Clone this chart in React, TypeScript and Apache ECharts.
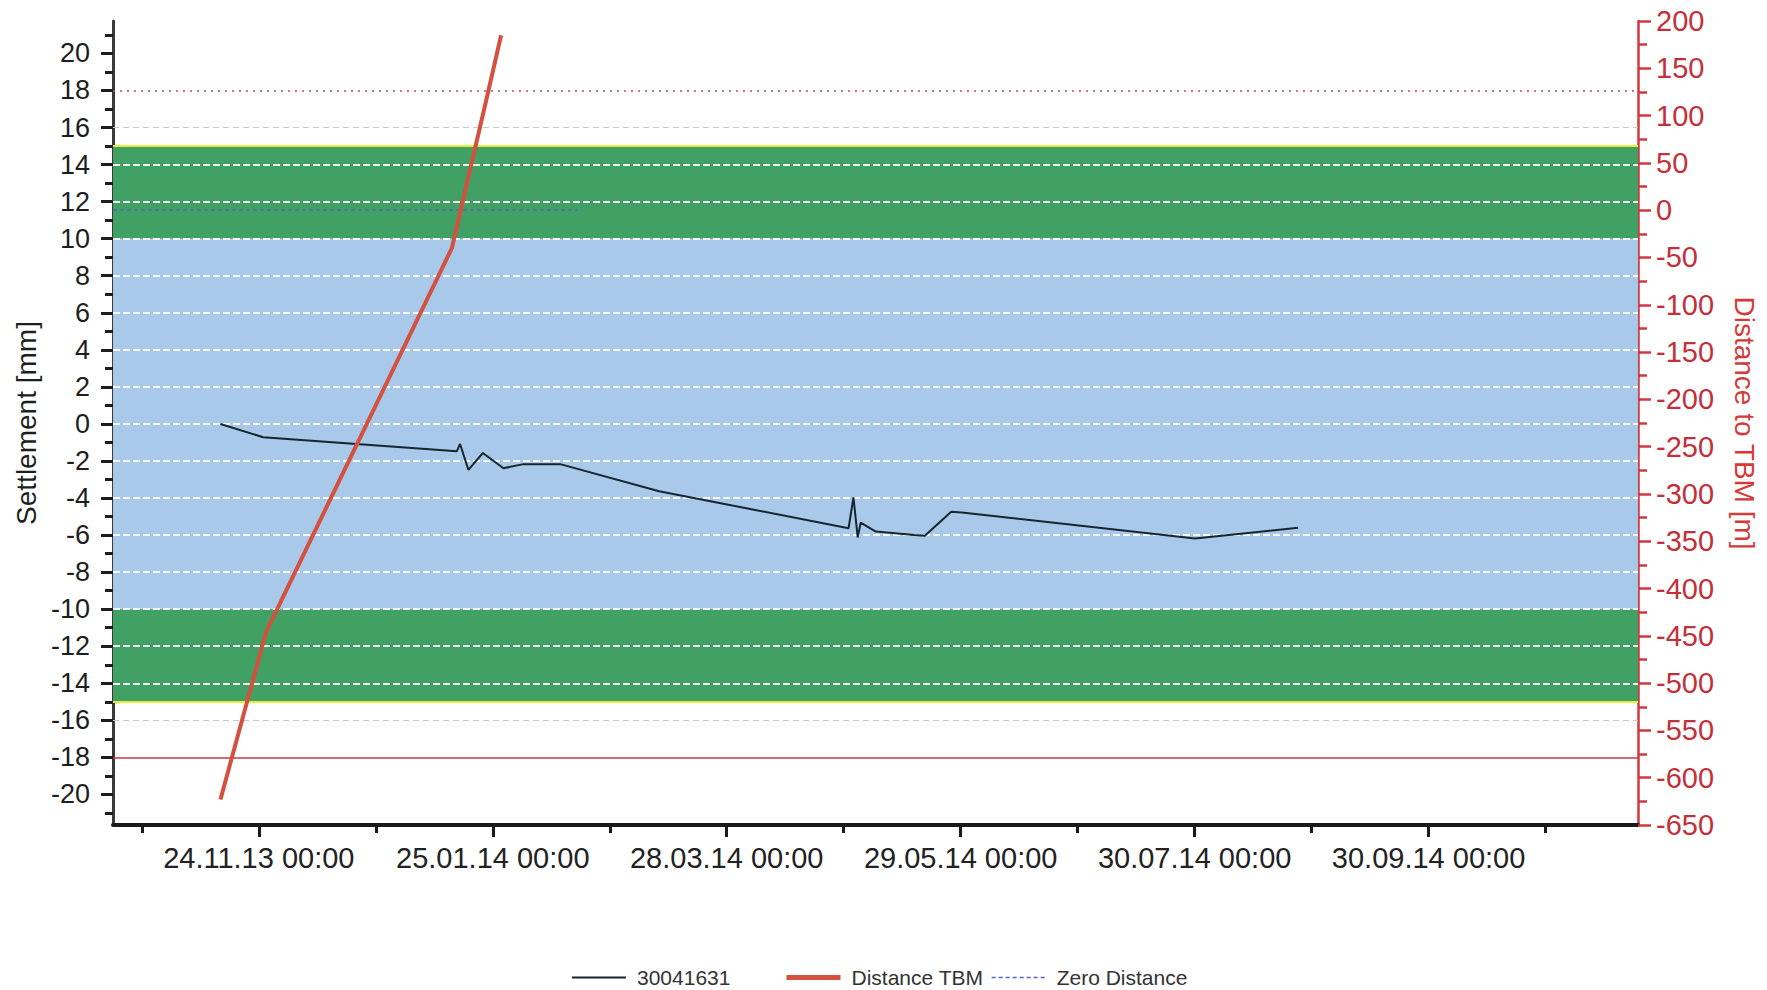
import React, { useEffect, useRef } from 'react';
import * as echarts from 'echarts';

// ---- data ----
const settlementDates = [
  '2013-11-13T20:00', '2013-11-25T04:00', '2014-01-15T11:00', '2014-01-16T08:00',
  '2014-01-18T13:00', '2014-01-22T09:00', '2014-01-27T20:00', '2014-02-02T03:00',
  '2014-02-11T21:00', '2014-03-10T02:00', '2014-04-29T07:00', '2014-04-30T14:00',
  '2014-05-01T17:00', '2014-05-02T12:00', '2014-05-06T12:00', '2014-05-16T17:00',
  '2014-05-19T12:00', '2014-05-26T12:00', '2014-05-29T07:00', '2014-07-30T03:00',
  '2014-08-26T10:00',
];
const settlementValues = [
  0.0, -0.72, -1.48, -1.08, -2.48, -1.57, -2.39, -2.17, -2.17, -3.63, -5.63, -3.96,
  -6.13, -5.33, -5.81, -6.0, -6.04, -4.74, -4.78, -6.18, -5.61,
];

const distanceDates = ['2013-11-13T20:00', '2013-11-25T22:00', '2014-01-14T04:00', '2014-01-23T06:00', '2014-01-27T05:00'];
const distanceValues = [-623, -446, -40, 116, 185];

const zeroDates = ['2013-10-16T08:30', '2014-02-16T10:00'];
const zeroValues = [0, 0];

const xAxisStart = '2013-10-16T08:30';
const xAxisEnd = '2014-11-24T12:00';
const xLabelDates = ['2013-11-24T00:00', '2014-01-25T00:00', '2014-03-28T00:00', '2014-05-29T00:00', '2014-07-30T00:00', '2014-09-30T00:00'];
const xMinorTickDates = ['2013-10-24T00:00', '2013-12-25T00:00', '2014-02-25T00:00', '2014-04-28T00:00', '2014-06-29T00:00', '2014-08-30T00:00', '2014-10-31T00:00'];

const leftMin = -21.65;
const leftMax = 21.75;
const leftLabelValues = [-20, -18, -16, -14, -12, -10, -8, -6, -4, -2, 0, 2, 4, 6, 8, 10, 12, 14, 16, 18, 20];
const leftMinorTickValues = [-21, -19, -17, -15, -13, -11, -9, -7, -5, -3, -1, 1, 3, 5, 7, 9, 11, 13, 15, 17, 19, 21];

const rightMin = -650;
const rightMax = 200;
const rightInterval = 50;

const gridLineValues = [-14, -12, -10, -8, -6, -4, -2, 0, 2, 4, 6, 8, 10, 12, 14];
const upperGreenBand = [10, 15];
const blueBand = [-10, 10];
const lowerGreenBand = [-15, -10];
const bandEdgeValues = [15, -15];
const warningValues = [16, -16];
const alarmUpper = 18;
const alarmLower = -18;

const seriesNames = ['30041631', 'Distance TBM', 'Zero Distance'];

// ---- helpers ----
const ts = (s: string) => Date.parse(s + ':00Z');
const pad = (n: number) => (n < 10 ? '0' + n : '' + n);
const fmtDate = (v: number) => {
  const d = new Date(v);
  return `${pad(d.getUTCDate())}.${pad(d.getUTCMonth() + 1)}.${pad(d.getUTCFullYear() % 100)} 00:00`;
};

const FONT = '"Liberation Sans", Arial, Helvetica, sans-serif';
const GREEN = '#41a064';
const BLUE = '#a8c9ea';
const RED_AXIS = '#cf3a40';

const legendBase = (name: string, left: number, lineWidth: number) => ({
  data: [name],
  left,
  top: 967,
  padding: 0,
  itemWidth: 54,
  itemHeight: 2,
  itemStyle: { opacity: 0 },
  lineStyle: { width: lineWidth },
  textStyle: { fontSize: 21, color: '#333', fontFamily: FONT, padding: [0, 0, 0, 6] },
});

export default function App() {
  const ref = useRef<HTMLDivElement>(null);

  useEffect(() => {
    if (!ref.current) return;
    const chart = echarts.init(ref.current, undefined, { renderer: 'svg' });
    const xMin = ts(xAxisStart);
    const xMax = ts(xAxisEnd);
    const xLabelTs = xLabelDates.map(ts);
    const xMinorTs = xMinorTickDates.map(ts);

    const option: any = {
      animation: false,
      backgroundColor: '#ffffff',
      textStyle: { fontFamily: FONT },
      grid: { left: 113, right: 129, top: 21, bottom: 165, containLabel: false },
      legend: [
        legendBase(seriesNames[0], 571, 2),
        legendBase(seriesNames[1], 784, 5),
        legendBase(seriesNames[2], 991, 1.3),
      ],
      xAxis: [
        {
          type: 'value',
          min: xMin,
          max: xMax,
          position: 'bottom',
          axisLine: { show: true, onZero: false, lineStyle: { color: '#1a1a1a', width: 4 } },
          axisTick: { show: true, customValues: xLabelTs, length: 12, lineStyle: { color: '#1a1a1a', width: 3 } },
          axisLabel: {
            show: true,
            customValues: xLabelTs,
            formatter: (v: number) => fmtDate(v),
            fontSize: 29,
            color: '#222',
            margin: 18,
            fontFamily: FONT,
          },
          splitLine: { show: false },
        },
        {
          type: 'value',
          min: xMin,
          max: xMax,
          position: 'bottom',
          axisLine: { show: false, onZero: false },
          axisTick: { show: true, customValues: xMinorTs, length: 8, lineStyle: { color: '#1a1a1a', width: 3 } },
          axisLabel: { show: false },
          splitLine: { show: false },
        },
      ],
      yAxis: [
        {
          type: 'value',
          min: leftMin,
          max: leftMax,
          position: 'left',
          name: 'Settlement [mm]',
          nameLocation: 'middle',
          nameGap: 70,
          nameTextStyle: { fontSize: 28, color: '#1e1e1e', fontFamily: FONT },
          axisLine: { show: true, onZero: false, lineStyle: { color: '#3a3a3a', width: 3 } },
          axisTick: { show: true, customValues: leftLabelValues, length: 12, lineStyle: { color: '#1e1e1e', width: 3 } },
          axisLabel: { show: true, customValues: leftLabelValues, fontSize: 27, color: '#1e1e1e', margin: 23, fontFamily: FONT },
          splitLine: { show: false },
        },
        {
          type: 'value',
          min: rightMin,
          max: rightMax,
          interval: rightInterval,
          position: 'right',
          name: 'Distance to TBM [m]',
          nameLocation: 'middle',
          nameRotate: -90,
          nameGap: 92,
          nameTextStyle: { fontSize: 28, color: '#d43a3a', fontFamily: FONT },
          axisLine: { show: true, onZero: false, lineStyle: { color: RED_AXIS, width: 2.5 } },
          axisTick: { show: true, length: 13, lineStyle: { color: RED_AXIS, width: 2.5 } },
          minorTick: { show: true, splitNumber: 2, length: 9, lineStyle: { color: RED_AXIS, width: 2.5 } },
          axisLabel: { show: true, fontSize: 29, color: '#c4303a', margin: 18, fontFamily: FONT },
          splitLine: { show: false },
          minorSplitLine: { show: false },
        },
        {
          type: 'value',
          min: leftMin,
          max: leftMax,
          position: 'left',
          axisLine: { show: false, onZero: false },
          axisTick: { show: true, customValues: leftMinorTickValues, length: 8, lineStyle: { color: '#1e1e1e', width: 3 } },
          axisLabel: { show: false },
          splitLine: { show: false },
        },
      ],
      series: [
        {
          name: 'bands',
          type: 'line',
          data: [],
          xAxisIndex: 0,
          yAxisIndex: 0,
          z: 1,
          silent: true,
          markArea: {
            silent: true,
            data: [
              [{ yAxis: upperGreenBand[0], itemStyle: { color: GREEN } }, { yAxis: upperGreenBand[1] }],
              [{ yAxis: blueBand[0], itemStyle: { color: BLUE } }, { yAxis: blueBand[1] }],
              [{ yAxis: lowerGreenBand[0], itemStyle: { color: GREEN } }, { yAxis: lowerGreenBand[1] }],
            ],
          },
          markLine: {
            silent: true,
            symbol: ['none', 'none'],
            label: { show: false },
            data: [
              ...gridLineValues.map((v) => ({
                yAxis: v,
                lineStyle: { color: 'rgba(255,255,255,0.92)', width: 1.8, type: [7, 3] },
              })),
              ...bandEdgeValues.map((v) => ({
                yAxis: v,
                lineStyle: { color: '#e6ee3a', width: 2, type: 'solid' },
              })),
              ...warningValues.map((v) => ({
                yAxis: v,
                lineStyle: { color: '#c9c9c9', width: 1.2, type: [6, 4] },
              })),
              { yAxis: alarmUpper, lineStyle: { color: '#b84a5a', width: 1.5, type: [2, 5] } },
              { yAxis: alarmLower, lineStyle: { color: '#c43848', width: 1.5, type: 'solid' } },
            ],
          },
        },
        {
          name: seriesNames[2],
          type: 'line',
          xAxisIndex: 0,
          yAxisIndex: 1,
          z: 4,
          symbol: 'none',
          data: zeroDates.map((d, i) => [ts(d), zeroValues[i]]),
          lineStyle: { color: '#5563c4', width: 1.3, type: [4, 3] },
          itemStyle: { color: '#5563c4' },
        },
        {
          name: seriesNames[0],
          type: 'line',
          xAxisIndex: 0,
          yAxisIndex: 0,
          z: 5,
          symbol: 'none',
          data: settlementDates.map((d, i) => [ts(d), settlementValues[i]]),
          lineStyle: { color: '#17252e', width: 2 },
          itemStyle: { color: '#17252e' },
        },
        {
          name: seriesNames[1],
          type: 'line',
          xAxisIndex: 0,
          yAxisIndex: 1,
          z: 6,
          symbol: 'none',
          data: distanceDates.map((d, i) => [ts(d), distanceValues[i]]),
          lineStyle: { color: '#d4503f', width: 4 },
          itemStyle: { color: '#d4503f' },
        },
      ],
    };
    chart.setOption(option);
    return () => chart.dispose();
  }, []);

  return (
    <div
      ref={ref}
      style={{ position: 'fixed', left: 0, top: 0, width: 1767, height: 990, background: '#fff' }}
    />
  );
}
